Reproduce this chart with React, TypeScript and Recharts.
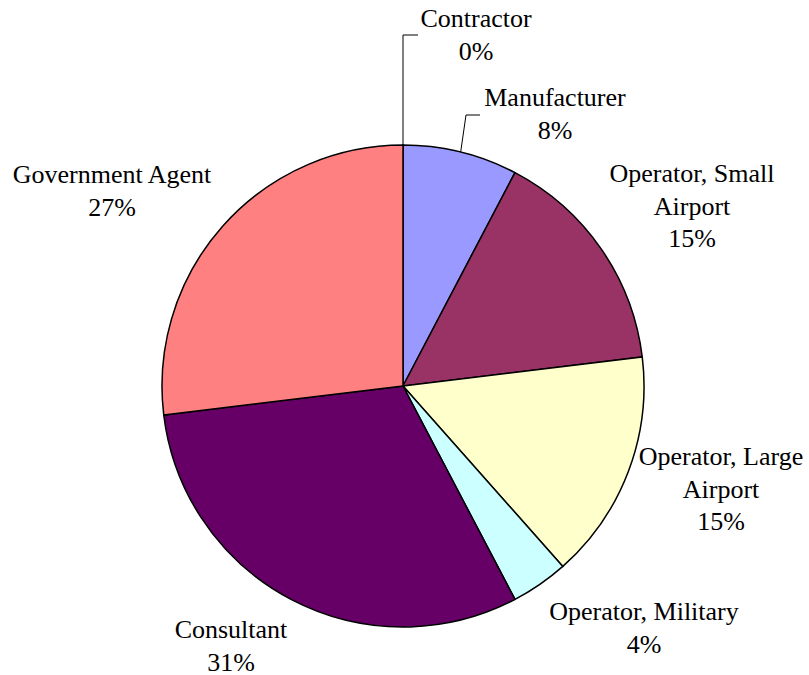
import React from "react";
import { PieChart, Pie, Cell } from "recharts";

const categories = [
  "Contractor",
  "Manufacturer",
  "Operator, Small Airport",
  "Operator, Large Airport",
  "Operator, Military",
  "Consultant",
  "Government Agent",
];
const counts = [0, 2, 4, 4, 1, 8, 7];
const labelLines = [
  ["Contractor"],
  ["Manufacturer"],
  ["Operator, Small", "Airport"],
  ["Operator, Large", "Airport"],
  ["Operator, Military"],
  ["Consultant"],
  ["Government Agent"],
];

const colors = ["#CCCCFF", "#9999FF", "#993366", "#FFFFCC", "#CCFFFF", "#660066", "#FF8080"];

// label layout: text centre x, first baseline y, optional leader elbow/end
const labelLayout = [
  { x: 476, y: 27, elbow: [403, 35], end: [418, 35] },
  { x: 555, y: 106, elbow: [466, 115], end: [480, 115] },
  { x: 692, y: 182 },
  { x: 721, y: 465 },
  { x: 644, y: 620 },
  { x: 231, y: 638 },
  { x: 112, y: 183 },
];

const total = counts.reduce((a, b) => a + b, 0);
const data = categories.map((name, i) => ({ name, value: counts[i] }));

const RAD = Math.PI / 180;
const LINE_H = 32.5;
const FONT = "Liberation Serif, Times New Roman, DejaVu Serif, serif";

const renderLabel = (props: any) => {
  const { index, cx, cy, midAngle, outerRadius, value } = props;
  const lay = labelLayout[index];
  const lines = [...labelLines[index], `${Math.round((value / total) * 100)}%`];
  let leader = null;
  if (lay.elbow) {
    const sx = cx + outerRadius * Math.cos(-midAngle * RAD);
    const sy = cy + outerRadius * Math.sin(-midAngle * RAD);
    leader = (
      <polyline
        points={`${sx},${sy} ${lay.elbow[0]},${lay.elbow[1]} ${lay.end[0]},${lay.end[1]}`}
        fill="none"
        stroke="#000"
        strokeWidth={1}
      />
    );
  }
  return (
    <g key={`lbl-${index}`}>
      {leader}
      <text
        x={lay.x}
        y={lay.y}
        textAnchor="middle"
        fill="#000"
        fontFamily={FONT}
        fontSize={26}
        style={{ fontFamily: FONT, fontSize: 26 }}
      >
        {lines.map((t, k) => (
          <tspan key={k} x={lay.x} y={lay.y + k * LINE_H} fontFamily={FONT}>
            {t}
          </tspan>
        ))}
      </text>
    </g>
  );
};

export default function App() {
  return (
    <div style={{ position: "absolute", left: 0, top: 0, width: 809, height: 675, background: "#fff", fontFamily: FONT }}>
      <PieChart width={809} height={675} margin={{ top: 0, right: 0, bottom: 0, left: 0 }}>
        <Pie
          data={data}
          dataKey="value"
          nameKey="name"
          cx={403}
          cy={386}
          outerRadius={241}
          startAngle={90}
          endAngle={-270}
          stroke="#000"
          strokeWidth={1.5}
          label={renderLabel}
          labelLine={false}
          isAnimationActive={false}
        >
          {data.map((d, i) => (
            <Cell key={d.name} fill={colors[i]} />
          ))}
        </Pie>
      </PieChart>
    </div>
  );
}
